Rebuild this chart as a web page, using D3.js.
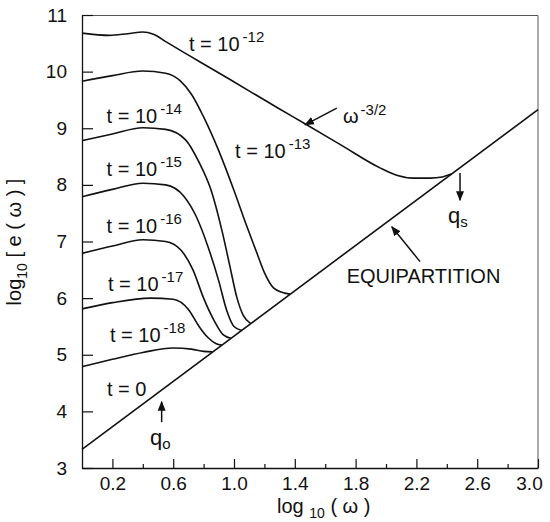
<!DOCTYPE html>
<html>
<head>
<meta charset="utf-8">
<script src="https://cdn.jsdelivr.net/npm/d3@7"></script>
<style>
body { margin:0; background:#fff; }
text { font-family: "Liberation Sans", Arial, sans-serif; fill:#111; }
</style>
</head>
<body>
<div id="chart"></div>
<script>
// axis ticks
var xMajorTicks = [0.2, 0.6, 1.0, 1.4, 1.8, 2.2, 2.6, 3.0]
var xMinorTicks = [0.4, 0.8, 1.2, 1.6, 2.0, 2.4, 2.8]
var yTicks = [3, 4, 5, 6, 7, 8, 9, 10, 11]

// curves, [log10 w, log10 e]
var curveT12 = [[0,10.68],[0.18,10.64],[0.3,10.67],[0.4,10.70],[0.47,10.66],[0.557,10.52],[0.689,10.31],[0.777,10.17],[0.974,9.86],[1.3,9.34],[1.467,9.08],[1.7,8.71],[1.96,8.3],[2.07,8.17],[2.18,8.12],[2.29,8.12],[2.37,8.14],[2.43,8.19]]
var curveT13 = [[0,9.83],[0.2,9.93],[0.4,10.01],[0.55,9.97],[0.645,9.84],[0.72,9.6],[0.8,9.2],[0.9,8.6],[1.0,7.9],[1.08,7.3],[1.15,6.8],[1.2,6.45],[1.26,6.18],[1.32,6.1],[1.37,6.07]]
var curveT14 = [[0,8.78],[0.2,8.9],[0.4,9.01],[0.55,8.98],[0.68,8.8],[0.77,8.4],[0.85,7.9],[0.92,7.2],[0.97,6.6],[1.02,6.0],[1.06,5.7],[1.11,5.55]]
var curveT15 = [[0,7.79],[0.2,7.92],[0.4,8.03],[0.55,8.0],[0.67,7.8],[0.75,7.45],[0.83,6.9],[0.9,6.3],[0.95,5.8],[1.0,5.5],[1.05,5.43]]
var curveT16 = [[0,6.79],[0.2,6.92],[0.4,7.03],[0.55,7.0],[0.65,6.85],[0.73,6.5],[0.8,6.0],[0.87,5.6],[0.93,5.35],[0.98,5.29]]
var curveT17 = [[0,5.81],[0.2,5.92],[0.45,6.0],[0.6,5.98],[0.7,5.8],[0.77,5.5],[0.83,5.3],[0.88,5.2],[0.92,5.17]]
var curveT18 = [[0,4.79],[0.2,4.92],[0.4,5.04],[0.6,5.12],[0.72,5.1],[0.8,5.06],[0.86,5.05]]
var equipartition = [[0,3.33],[3.0,9.33]]

// text labels: main text, superscript, [x, y] in data units
var curveLabels = [
    {text:"t = 10", sup:"-12", at:[0.704,10.37]},
    {text:"t = 10", sup:"-13", at:[1.007,8.47]},
    {text:"t = 10", sup:"-14", at:[0.162,9.09]},
    {text:"t = 10", sup:"-15", at:[0.162,8.15]},
    {text:"t = 10", sup:"-16", at:[0.162,7.15]},
    {text:"t = 10", sup:"-17", at:[0.171,6.12]},
    {text:"t = 10", sup:"-18", at:[0.184,5.23]},
    {text:"t = 0", sup:"", at:[0.164,4.28]}
]

// arrows: from -> to (tip), data units
var arrows = [
    {from:[0.524,3.81], to:[0.524,4.17]},
    {from:[2.487,8.21], to:[2.487,7.73]},
    {from:[1.676,9.355], to:[1.467,9.06]},
    {from:[2.224,6.645], to:[2.038,7.26]}
]

var config = {width:550, height:522}
var margin = {left:82, right:12, top:15, bottom:54}
var width = config.width - margin.left - margin.right,
    height = config.height - margin.top - margin.bottom

var svg = d3.select("#chart").append("svg")
    .attr("width", config.width)
    .attr("height", config.height)

svg.append("defs").append("marker")
    .attr("id", "head")
    .attr("viewBox", "0 0 10 10")
    .attr("refX", 9).attr("refY", 5)
    .attr("markerWidth", 10).attr("markerHeight", 10)
    .attr("markerUnits", "userSpaceOnUse")
    .attr("orient", "auto")
    .append("path")
    .attr("d", "M0,1 L10,5 L0,9 Z")
    .attr("fill", "#111")

var g = svg.append("g")
    .attr("transform", "translate(" + margin.left + "," + margin.top + ")")

var x = d3.scaleLinear().domain([0, 3.0]).range([0, width])
var y = d3.scaleLinear().domain([3, 11]).range([height, 0])

// frame (top and right)
g.append("path")
    .attr("d", "M0,0.5 H" + width + " V" + height)
    .attr("fill", "none")
    .attr("stroke", "#555")
    .attr("stroke-width", 1)

// x axis
var xAxis = g.append("g")
    .attr("transform", "translate(0," + height + ")")
    .call(d3.axisBottom(x).tickValues(xMajorTicks).tickSize(-9).tickSizeOuter(0).tickPadding(9).tickFormat(d3.format(".1f")))
xAxis.select(".domain").attr("stroke", "#111").attr("stroke-width", 1.3)
xAxis.selectAll("text").attr("font-size", 19).attr("font-family", null)
xAxis.selectAll(".tick line").attr("stroke", "#111").attr("stroke-width", 1.2)
xAxis.selectAll(".tick").filter(function(d){ return d == 3.0 })
    .select("text").attr("dx", -9)

var xMinor = g.append("g")
    .attr("transform", "translate(0," + height + ")")
    .call(d3.axisBottom(x).tickValues(xMinorTicks).tickSize(-4).tickSizeOuter(0).tickFormat(""))
xMinor.select(".domain").remove()
xMinor.selectAll(".tick line").attr("stroke", "#111").attr("stroke-width", 1.2)

// y axis
var yAxis = g.append("g")
    .call(d3.axisLeft(y).tickValues(yTicks).tickSize(-11).tickSizeOuter(0).tickPadding(15).tickFormat(d3.format("d")))
yAxis.select(".domain").attr("stroke", "#111").attr("stroke-width", 1.3)
yAxis.selectAll("text").attr("font-size", 19).attr("font-family", null)
yAxis.selectAll(".tick line").attr("stroke", "#111").attr("stroke-width", 1.2)

// axis titles
var xTitle = svg.append("text")
    .attr("x", 277)
    .attr("y", 513)
    .attr("font-size", 20)
xTitle.append("tspan").text("log ")
xTitle.append("tspan").attr("font-size", 14).attr("dy", 5).text("10")
xTitle.append("tspan").attr("dy", -5).text(" ( \u03c9 )")

var yTitle = svg.append("text")
    .attr("transform", "translate(21,242) rotate(-90)")
    .attr("text-anchor", "middle")
    .attr("font-size", 20)
yTitle.append("tspan").text("log")
yTitle.append("tspan").attr("font-size", 14).attr("dy", 6).text("10")
yTitle.append("tspan").attr("dy", -6).text(" [ e ( \u03c9 ) ]")

// curves
var line = d3.line()
    .x(function(d){ return x(d[0]) })
    .y(function(d){ return y(d[1]) })
    .curve(d3.curveMonotoneX)

var curves = [curveT12, curveT13, curveT14, curveT15, curveT16, curveT17, curveT18, equipartition]

g.selectAll(".curve")
    .data(curves)
    .enter()
        .append("path")
        .attr("class", "curve")
        .attr("d", line)
        .attr("fill", "none")
        .attr("stroke", "#111")
        .attr("stroke-width", 1.6)

// curve labels
var lbl = g.selectAll(".t-label")
    .data(curveLabels)
    .enter()
        .append("text")
        .attr("class", "t-label")
        .attr("x", d=> x(d.at[0]))
        .attr("y", d=> y(d.at[1]))
        .attr("font-size", 20)
lbl.append("tspan").text(d=> d.text)
lbl.append("tspan")
    .attr("font-size", 15)
    .attr("dx", 3)
    .attr("dy", -9)
    .text(d=> d.sup)

// arrows
g.selectAll(".arrow")
    .data(arrows)
    .enter()
        .append("line")
        .attr("class", "arrow")
        .attr("x1", d=> x(d.from[0]))
        .attr("y1", d=> y(d.from[1]))
        .attr("x2", d=> x(d.to[0]))
        .attr("y2", d=> y(d.to[1]))
        .attr("stroke", "#111")
        .attr("stroke-width", 1.5)
        .attr("marker-end", "url(#head)")

// other annotations
var qo = g.append("text").attr("x", x(0.447)).attr("y", y(3.41)).attr("font-size", 22)
qo.append("tspan").text("q")
qo.append("tspan").attr("font-size", 15).attr("dy", 4).text("o")

var qs = g.append("text").attr("x", x(2.408)).attr("y", y(7.33)).attr("font-size", 22)
qs.append("tspan").text("q")
qs.append("tspan").attr("font-size", 15).attr("dy", 4).text("s")

var om = g.append("text").attr("x", x(1.717)).attr("y", y(9.09)).attr("font-size", 20)
om.append("tspan").text("\u03c9")
om.append("tspan").attr("font-size", 15).attr("dx", 2).attr("dy", -8).text("-3/2")

g.append("text")
    .attr("x", x(1.741))
    .attr("y", y(6.26))
    .attr("font-size", 20)
    .text("EQUIPARTITION")
</script>
</body>
</html>
